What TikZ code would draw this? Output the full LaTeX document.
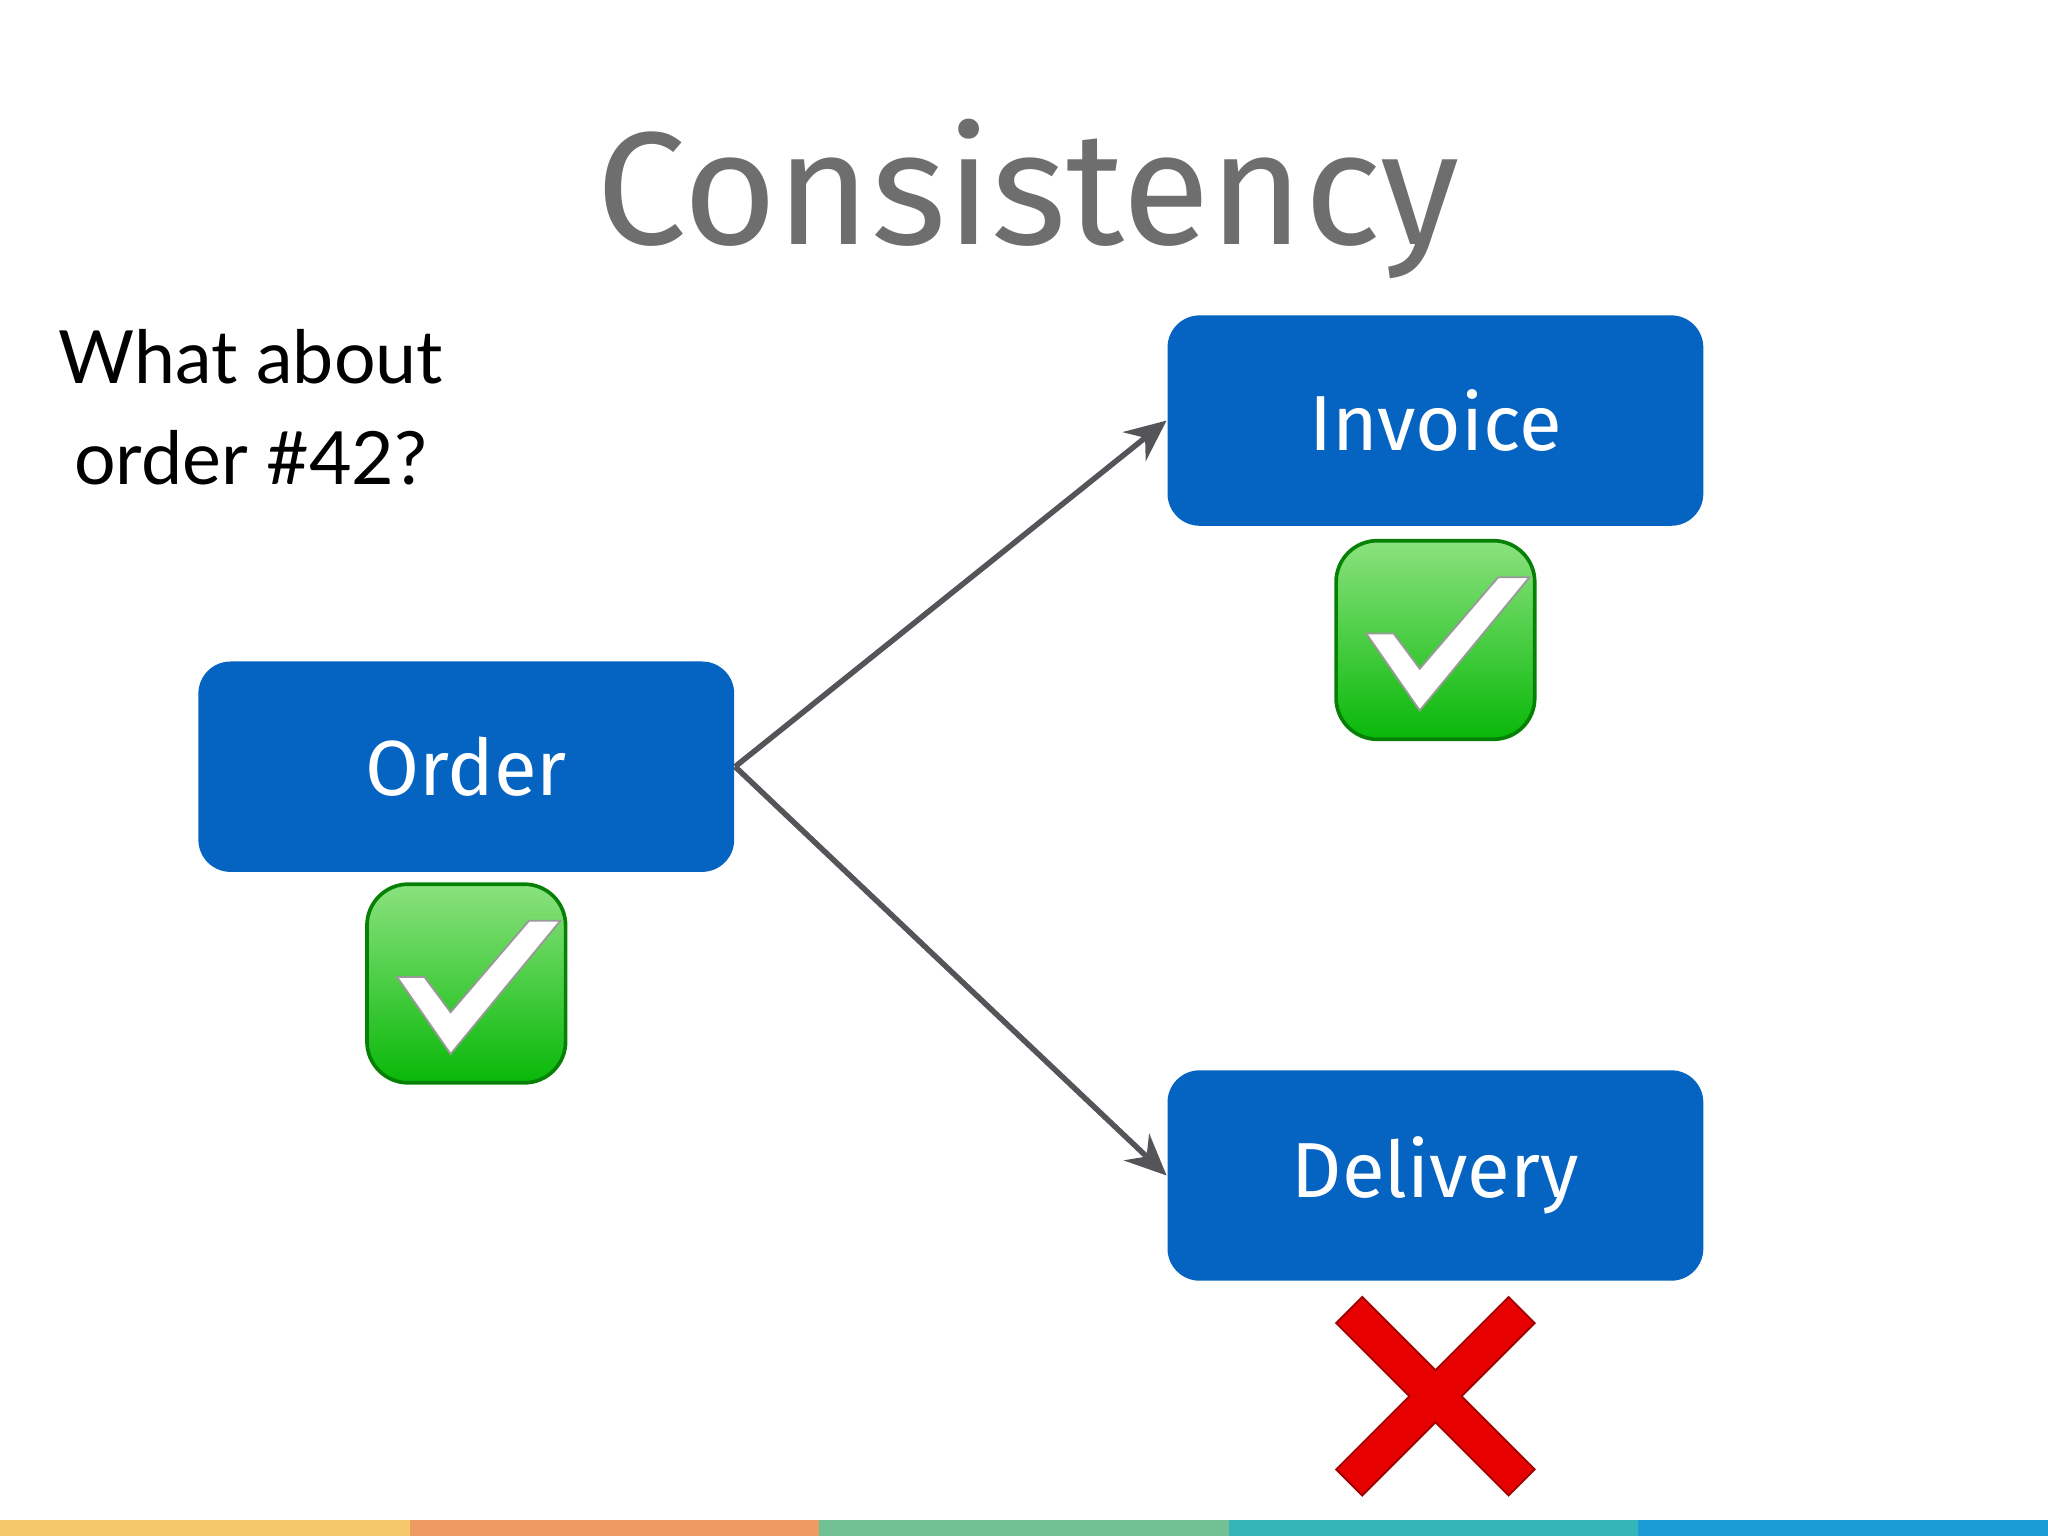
\documentclass[tikz,border=0pt]{standalone}
\usepackage{fontspec}
\setmainfont{Fira Sans}
\newfontfamily\askfont{Lato}
\usetikzlibrary{arrows.meta,positioning}
\begin{document}
\begin{tikzpicture}[x=0.01cm,y=-0.01cm]
  % Colors
  \definecolor{boxblue}{HTML}{0563C1}
  \definecolor{arrowgrey}{HTML}{555559}
  \definecolor{titlegrey}{HTML}{6E6E6E}
  \definecolor{okgreen}{HTML}{08B808}
  \definecolor{okgreenlight}{HTML}{8BE27E}
  \definecolor{nored}{HTML}{E60000}

  % Styles
  \tikzset{
    entity/.style={rounded corners=7pt,fill=boxblue,text=white,minimum width=4.1cm,
      minimum height=1.61cm,font=\fontsize{17}{20}\selectfont,inner sep=0pt},
    flow/.style={draw=arrowgrey,line width=1.2pt,-{Stealth[length=9pt,width=8pt,inset=3pt]}},
    tick box/.style={rounded corners=9pt,draw=okgreen!70!black,line width=0.8pt,
      top color=okgreenlight,bottom color=okgreen,
      minimum size=1.52cm,inner sep=0pt}
  }

  \useasboundingbox (0,0) rectangle (1568,1176);

  % Title and question
  \node[text=titlegrey,font=\fontsize{35}{40}\selectfont] (title) at (787,152) {Consistency};
  \node[align=center,font=\askfont\fontsize{16}{22}\selectfont] (question) at (192,312) {What about\\order \#42?};

  % Entities
  \node[entity] (order) at (357,587) {Order};
  \node[entity] (invoice) at (1099,322) {Invoice};
  \node[entity] (delivery) at (1099,900) {Delivery};

  \draw[flow] (order.east) -- (invoice.west);
  \draw[flow] (order.east) -- (delivery.west);

  % Status marks
  \foreach \name/\px/\py in {ordertick/357/753, invoicetick/1099/490} {
    \node[tick box] (\name) at (\px,\py) {};
    \fill[white,draw=black!40,line width=0.4pt,shift={(\name.center)}]
      (-53,-5) -- (-32,-5) -- (-12,22) -- (48,-48) -- (72,-48) -- (-12,54) -- cycle;
  }
  \node[minimum size=1.52cm,inner sep=0pt] (deliverycross) at (1099,1069) {};
  \begin{scope}[shift={(deliverycross.center)}]
    \fill[nored,draw=nored!70!black,line width=0.4pt]
      (-76,-56) -- (-56,-76) -- (0,-20) -- (56,-76) -- (76,-56) -- (20,0) --
      (76,56) -- (56,76) -- (0,20) -- (-56,76) -- (-76,56) -- (-20,0) -- cycle;
  \end{scope}

  % Bottom stripe
  \foreach \c [count=\i from 0] in {F5C96B,EE9B63,72C195,35B5B5,1B9BD6} {
    \definecolor{stripe}{HTML}{\c}
    \fill[stripe] (\i*313.6,1164) rectangle ({(\i+1)*313.6},1176);
  }
\end{tikzpicture}
\end{document}
